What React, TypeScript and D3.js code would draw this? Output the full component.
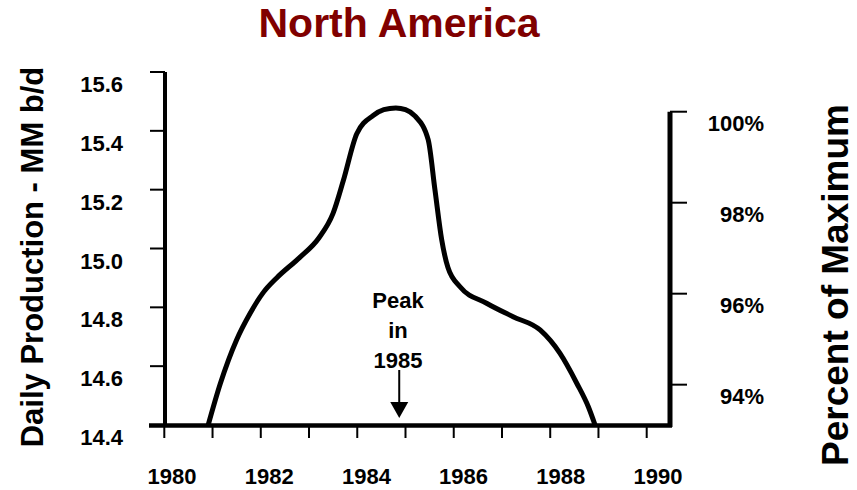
import React from "react";
import * as d3 from "d3";

// ---- data ----
const years = [
  1980.91, 1981.16, 1981.5, 1981.78, 1982.05, 1982.33, 1982.81, 1983.2, 1983.5,
  1983.71, 1983.99, 1984.33, 1984.55, 1984.8, 1985.0, 1985.2, 1985.47, 1985.61,
  1985.75, 1985.88, 1986.13, 1986.68, 1987.23, 1987.79, 1988.2, 1988.55, 1988.79,
  1988.93,
];
const production = [
  14.4, 14.54, 14.69, 14.78, 14.85, 14.9, 14.97, 15.035, 15.12, 15.23, 15.39,
  15.452, 15.472, 15.478, 15.472, 15.45, 15.37, 15.2, 15.03, 14.935, 14.87,
  14.814, 14.768, 14.723, 14.644, 14.542, 14.462, 14.4,
];
const leftTicks = [14.4, 14.6, 14.8, 15.0, 15.2, 15.4, 15.6];
const rightTicks = [94, 96, 98, 100];
const yearTicks = [1980, 1981, 1982, 1983, 1984, 1985, 1986, 1987, 1988, 1989, 1990];
const yearLabels = [1980, 1982, 1984, 1986, 1988, 1990];
const maxProduction = 15.465;
const peakYear = 1984.87;
const title = "North America";
const leftTitle = "Daily Production - MM b/d";
const rightTitle = "Percent of Maximum";
const peakLines = ["Peak", "in", "1985"];

const FONT = "'Liberation Sans', Arial, sans-serif";

export default function App() {
  const W = 857;
  const H = 490;
  const x = d3.scaleLinear().domain([1980, 1990]).range([164.3, 646.7]);
  const xLabel = d3.scaleLinear().domain([1980, 1990]).range([172, 658]);
  const y = d3.scaleLinear().domain([14.4, 15.6]).range([425, 72]);
  const yRight = d3
    .scaleLinear()
    .domain([(14.4 / maxProduction) * 100, 100])
    .range([y(14.4), y(maxProduction)]);

  const pts = years.map((yr, i) => [yr, production[i]] as [number, number]);
  const line = d3
    .line<[number, number]>()
    .x((d) => x(d[0]))
    .y((d) => y(d[1]))
    .curve(d3.curveMonotoneX);

  const peakX = x(peakYear);

  return (
    <svg
      width={W}
      height={H}
      style={{ position: "absolute", left: 0, top: 0, background: "#fff" }}
      fontFamily={FONT}
      fontWeight="bold"
    >
      <rect width={W} height={H} fill="#fff" />
      {/* title */}
      <text x={399} y={37} textAnchor="middle" fontSize={41} fill="#800000">
        {title}
      </text>

      {/* left axis */}
      <line x1={165} x2={165} y1={y(15.6)} y2={y(14.4)} stroke="#000" strokeWidth={4} />
      {leftTicks.map((t) => (
        <g key={"lt" + t}>
          <line x1={150} x2={165} y1={y(t)} y2={y(t)} stroke="#000" strokeWidth={2} />
          <text x={123} y={y(t) + 20} textAnchor="end" fontSize={22} fill="#000">
            {t.toFixed(1)}
          </text>
        </g>
      ))}
      <text
        transform={`translate(43,257) rotate(-90)`}
        textAnchor="middle"
        fontSize={31}
        fill="#000"
      >
        {leftTitle}
      </text>

      {/* right axis */}
      <line x1={670} x2={670} y1={yRight(100)} y2={427} stroke="#000" strokeWidth={5} />
      {rightTicks.map((t) => (
        <g key={"rt" + t}>
          <line x1={670} x2={687} y1={yRight(t)} y2={yRight(t)} stroke="#000" strokeWidth={2} />
          <text x={764} y={yRight(t) + 19} textAnchor="end" fontSize={22} fill="#000">
            {t + "%"}
          </text>
        </g>
      ))}
      <text
        transform={`translate(848,285) rotate(-90)`}
        textAnchor="middle"
        fontSize={37}
        fill="#000"
      >
        {rightTitle}
      </text>

      {/* bottom axis */}
      {yearTicks.map((t) => (
        <line key={"bt" + t} x1={x(t)} x2={x(t)} y1={425} y2={438} stroke="#000" strokeWidth={2} />
      ))}
      <line x1={149} x2={672} y1={425.5} y2={425.5} stroke="#000" strokeWidth={4.5} />
      {yearLabels.map((t) => (
        <text key={"bl" + t} x={xLabel(t)} y={484} textAnchor="middle" fontSize={22} fill="#000">
          {t}
        </text>
      ))}

      {/* curve */}
      <path
        d={line(pts) || ""}
        fill="none"
        stroke="#000"
        strokeWidth={5}
        strokeLinejoin="round"
        strokeLinecap="butt"
      />

      {/* annotation */}
      {peakLines.map((s, i) => (
        <text key={"pk" + i} x={398} y={308 + i * 30} textAnchor="middle" fontSize={22} fill="#000">
          {s}
        </text>
      ))}
      <line x1={peakX} x2={peakX} y1={370} y2={404} stroke="#000" strokeWidth={2} />
      <path
        d={`M${peakX - 9},402 L${peakX + 9},402 L${peakX},418 Z`}
        fill="#000"
      />
    </svg>
  );
}
